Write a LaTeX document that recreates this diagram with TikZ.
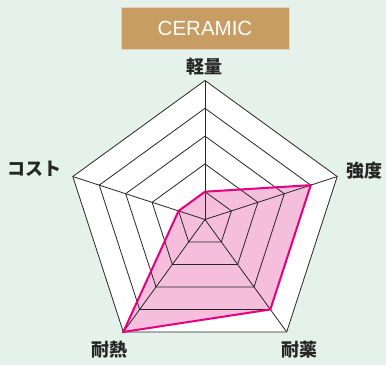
\documentclass[tikz,border=0pt]{standalone}
\usepackage{fontspec}
\newfontfamily\jpfont{Noto Sans CJK JP}
\newfontfamily\titlefont{Liberation Sans}
\usetikzlibrary{positioning}
\definecolor{bgMint}{HTML}{E5F1EB}
\definecolor{titleTan}{HTML}{C89D63}
\definecolor{chartPink}{HTML}{F5BEDC}
\definecolor{lineMagenta}{HTML}{E4007F}
\definecolor{gridBlack}{gray}{0.15}

\begin{document}
\begin{tikzpicture}[x=1pt, y=1pt,
    axislabel/.style={font=\jpfont\bfseries\fontsize{18}{18}\selectfont, text=gridBlack, inner sep=0pt},
    gridline/.style={gridBlack, line width=0.8pt}]
    % Background
    \fill[bgMint] (-205,-145.5) rectangle (181,219.5);
    \useasboundingbox (-205,-145.5) rectangle (181,219.5);

    % Title
    \node[fill=titleTan, draw=white!55!titleTan, minimum width=168pt, minimum height=42pt,
          text=white, font=\titlefont\fontsize{20.5}{20.5}\selectfont] (title) at (0,191) {CERAMIC};

    % Axis end points
    \coordinate (O) at (0,0);
    \foreach \name/\ang in {light/90, strength/18, chem/-54, heat/-126, cost/162}
        \coordinate (\name) at (\ang:139);

    % Outer pentagon
    \fill[white] (light) -- (strength) -- (chem) -- (heat) -- (cost) -- cycle;

    % Data (1, 4, 4, 5, 1)
    \coordinate (dLight) at (90:27.8);
    \coordinate (dStrength) at (18:111.2);
    \coordinate (dChem) at (-54:111.2);
    \coordinate (dHeat) at (-126:139);
    \coordinate (dCost) at (162:27.8);
    \fill[chartPink] (dLight) -- (dStrength) -- (dChem) -- (dHeat) -- (dCost) -- cycle;

    % Rings
    \foreach \r in {1,...,5}
        \draw[gridline] (90:{\r*27.8}) -- (18:{\r*27.8}) -- (-54:{\r*27.8})
            -- (-126:{\r*27.8}) -- (162:{\r*27.8}) -- cycle;

    % Spokes
    \foreach \name in {light, strength, chem, heat, cost}
        \draw[gridline] (O) -- (\name);

    % Data outline
    \draw[lineMagenta, line width=2pt] (dLight) -- (dStrength) -- (dChem) -- (dHeat) -- (dCost) -- cycle;

    % Labels
    \node[axislabel] (lightLabel) at (0,152.5) {軽量};
    \node[axislabel] (strengthLabel) at (160,49) {強度};
    \node[axislabel] (chemLabel) at (95,-130.5) {耐薬};
    \node[axislabel] (heatLabel) at (-95,-130.5) {耐熱};
    \node[axislabel] (costLabel) at (-170,50.5) {コスト};
\end{tikzpicture}
\end{document}
